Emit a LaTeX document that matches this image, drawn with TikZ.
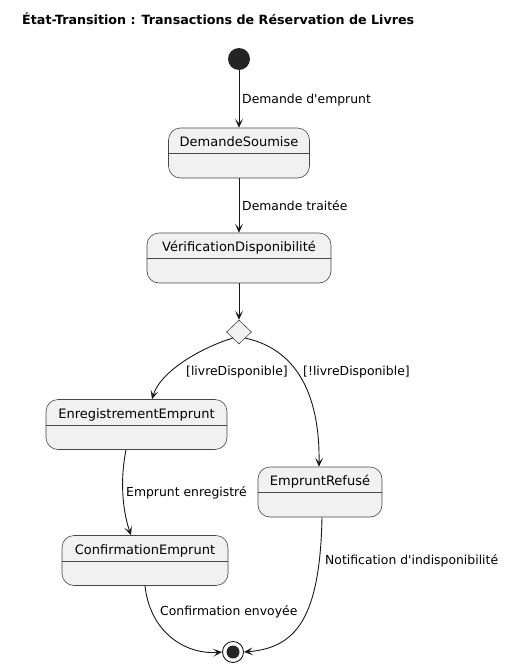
\documentclass[tikz,border=0pt]{standalone}
\usepackage{fontspec}
\setmainfont{DejaVu Sans}[Ligatures=TeXOff]
\usetikzlibrary{shapes.geometric,arrows.meta}
\definecolor{boxfill}{HTML}{F1F1F1}
\definecolor{ink}{HTML}{181818}
\tikzset{
  state/.style={draw=ink!80, line width=0.6pt, fill=boxfill, rounded corners=12pt,
    inner xsep=0pt, inner ysep=0pt, text height=18.5pt, text depth=31.5pt,
    font=\fontsize{13}{15}\selectfont},
  lbl/.style={anchor=west, inner sep=0pt, font=\fontsize{12.4}{14}\selectfont},
  arr/.style={draw=ink, line width=0.9pt, -{Stealth[length=9pt,width=8pt,inset=4.5pt]}},
  divider/.style={draw=ink!80, line width=0.6pt}
}
\begin{document}
\begin{tikzpicture}[x=1pt,y=-1pt]
\useasboundingbox (0,0) rectangle (511,667);
\node[anchor=west, inner sep=0pt, font=\bfseries\fontsize{12.7}{14}\selectfont] (title) at (22,19) {État-Transition : Transactions de Réservation de Livres};

\node[circle, fill=ink!95, minimum size=22pt, inner sep=0pt] (start) at (239,59) {};
\node[state, minimum width=141pt] (ds) at (239,153) {DemandeSoumise};
\node[state, minimum width=184pt] (vd) at (239,258) {VérificationDisponibilité};
\node[diamond, draw=ink!80, fill=boxfill, line width=0.6pt, minimum width=25pt, minimum height=24pt, inner sep=0pt] (dia) at (239,332) {};
\node[state, minimum width=181pt] (enr) at (136.5,424.5) {EnregistrementEmprunt};
\node[state, minimum width=124pt] (ref) at (320,492) {EmpruntRefusé};
\node[state, minimum width=166pt] (conf) at (145,560.5) {ConfirmationEmprunt};
\node[circle, draw=ink, line width=0.9pt, fill=white, minimum size=21pt, inner sep=0pt] (end) at (233,652) {};
\node[circle, fill=ink!95, minimum size=13pt, inner sep=0pt] (endin) at (end) {};

\foreach \n in {ds,vd,enr,ref,conf}{
  \draw[divider] ([yshift=-26pt]\n.north west) -- ([yshift=-26pt]\n.north east);
}

\draw[arr] (start) -- (ds.north);
\draw[arr] (ds.south) -- (vd.north);
\draw[arr] (vd.south) -- (dia.north);
\draw[arr] (dia.south west) .. controls (200,348) and (160,372) .. ([xshift=15.5pt]enr.north);
\draw[arr] (dia.south east) .. controls (300,350) and (320,400) .. ([xshift=-1pt]ref.north);
\draw[arr] ([xshift=-10.5pt]enr.south) .. controls (119,485) and (124,515) .. ([xshift=-14pt]conf.north);
\draw[arr] (conf.south) .. controls (150,632) and (185,655) .. (end.west);
\draw[arr] ([xshift=2pt]ref.south) .. controls (320,620) and (295,648) .. (end.east);

\node[lbl] (l1) at (242,100) {Demande d'emprunt};
\node[lbl] (l2) at (242,206) {Demande traitée};
\node[lbl] (l3) at (186,372) {[livreDisponible]};
\node[lbl] (l4) at (303,372) {[!livreDisponible]};
\node[lbl] (l5) at (126,493) {Emprunt enregistré};
\node[lbl] (l6) at (160,612) {Confirmation envoyée};
\node[lbl] (l7) at (325,561) {Notification d'indisponibilité};
\end{tikzpicture}
\end{document}
